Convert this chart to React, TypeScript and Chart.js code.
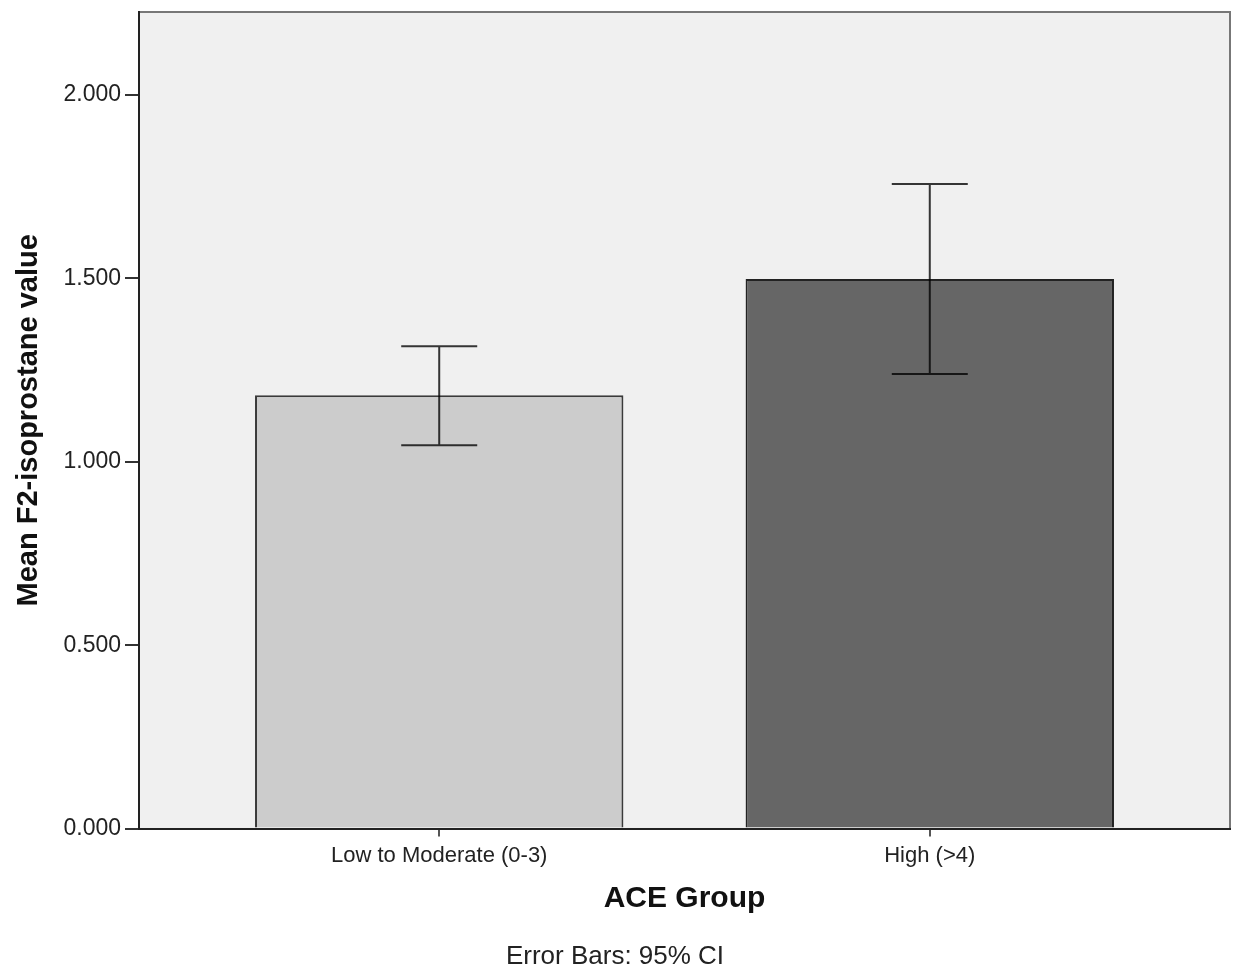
import React, { useEffect, useRef } from "react";
import { Chart, registerables } from "chart.js";

Chart.register(...registerables);

const categories = ["Low to Moderate (0-3)", "High (>4)"];
const xPositions = [1, 2];
const means = [1.181, 1.498];
const ciLower = [1.045, 1.239];
const ciUpper = [1.315, 1.757];
const barColors = ["#cccccc", "#666666"];
const barBorders = ["#3a3a3a", "#222222"];
const yTicks = [0, 0.5, 1, 1.5, 2];
const yMax = 2.226;
const xMin = 0.388;
const xMax = 2.612;

const FONT = "'Liberation Sans', Arial, sans-serif";

const plotBackground = {
  id: "plotBackground",
  beforeDraw(chart: any) {
    const { ctx, chartArea } = chart;
    if (!chartArea) return;
    ctx.save();
    ctx.fillStyle = "#f0f0f0";
    ctx.fillRect(chartArea.left, chartArea.top, chartArea.right - chartArea.left, chartArea.bottom - chartArea.top);
    ctx.strokeStyle = "#777777";
    ctx.lineWidth = 2;
    ctx.beginPath();
    ctx.moveTo(chartArea.left, chartArea.top);
    ctx.lineTo(chartArea.right, chartArea.top);
    ctx.lineTo(chartArea.right, chartArea.bottom);
    ctx.stroke();
    ctx.restore();
  },
};

const errorBars = {
  id: "errorBars",
  afterDatasetsDraw(chart: any) {
    const { ctx } = chart;
    const xs = chart.scales.x;
    const ys = chart.scales.y;
    ctx.save();
    ctx.strokeStyle = "rgba(0,0,0,0.78)";
    ctx.lineWidth = 2;
    const half = 38;
    xPositions.forEach((xv, i) => {
      const x = xs.getPixelForValue(xv);
      const yl = ys.getPixelForValue(ciLower[i]);
      const yu = ys.getPixelForValue(ciUpper[i]);
      ctx.beginPath();
      ctx.moveTo(x, yu);
      ctx.lineTo(x, yl);
      ctx.moveTo(x - half, yu);
      ctx.lineTo(x + half, yu);
      ctx.moveTo(x - half, yl);
      ctx.lineTo(x + half, yl);
      ctx.stroke();
    });
    ctx.restore();
  },
};

export default function App() {
  const ref = useRef<HTMLCanvasElement>(null);
  useEffect(() => {
    if (!ref.current) return;
    const chart = new Chart(ref.current, {
      type: "bar",
      data: {
        datasets: [
          {
            data: xPositions.map((x, i) => ({ x, y: means[i] })),
            backgroundColor: barColors,
            borderColor: barBorders,
            borderWidth: 2,
            borderSkipped: "bottom",
            categoryPercentage: 1,
            barPercentage: 0.751,
          },
        ],
      },
      options: {
        responsive: false,
        animation: false,
        layout: { padding: { top: 12, right: 3, bottom: 0, left: 0 } },
        plugins: {
          legend: { display: false },
          tooltip: { enabled: false },
          title: {
            display: true,
            position: "bottom",
            text: "Error Bars: 95% CI",
            color: "#222",
            font: { family: FONT, size: 26, weight: "normal", lineHeight: 0.9 },
            padding: { top: 32, bottom: 0 },
          },
        },
        scales: {
          x: {
            type: "linear",
            min: xMin,
            max: xMax,
            offset: false,
            afterBuildTicks: (scale: any) => {
              scale.ticks = xPositions.map((v) => ({ value: v }));
            },
            afterFit: (scale: any) => {
              scale.height = 85;
              scale.paddingLeft = 0;
              scale.paddingRight = 0;
            },
            ticks: {
              autoSkip: false,
              maxRotation: 0,
              padding: 6,
              color: "#222",
              font: { family: FONT, size: 22 },
              callback: (_v: any, i: number) => categories[i],
            },
            grid: {
              offset: false,
              drawOnChartArea: false,
              drawTicks: true,
              tickLength: 8,
              color: "#555",
              lineWidth: 2,
            },
            border: { display: true, color: "#222", width: 2 },
            title: {
              display: true,
              text: "ACE Group",
              color: "#111",
              font: { family: FONT, size: 30, weight: "bold", lineHeight: 1 },
              padding: { top: 0, bottom: 0 },
            },
          },
          y: {
            min: 0,
            max: yMax,
            afterBuildTicks: (scale: any) => {
              scale.ticks = yTicks.map((v) => ({ value: v }));
            },
            afterFit: (scale: any) => {
              scale.width = 139;
              scale.paddingTop = 0;
              scale.paddingBottom = 0;
            },
            ticks: {
              padding: 4,
              color: "#222",
              font: { family: FONT, size: 23 },
              callback: (v: any) => Number(v).toFixed(3),
            },
            grid: {
              drawOnChartArea: false,
              drawTicks: true,
              tickLength: 14,
              color: "#333",
              lineWidth: 2,
            },
            border: { display: true, color: "#222", width: 2 },
            title: {
              display: true,
              text: "Mean F2-isoprostane value",
              color: "#111",
              font: { family: FONT, size: 29, weight: "bold", lineHeight: 1.2 },
              padding: { top: 12, bottom: 0 },
            },
          },
        },
      },
      plugins: [plotBackground, errorBars],
    } as any);
    return () => chart.destroy();
  }, []);
  return (
    <div style={{ position: "absolute", left: 0, top: 0, width: 1233, height: 969, background: "#fff" }}>
      <canvas ref={ref} width={1233} height={969} style={{ display: "block" }} />
    </div>
  );
}
